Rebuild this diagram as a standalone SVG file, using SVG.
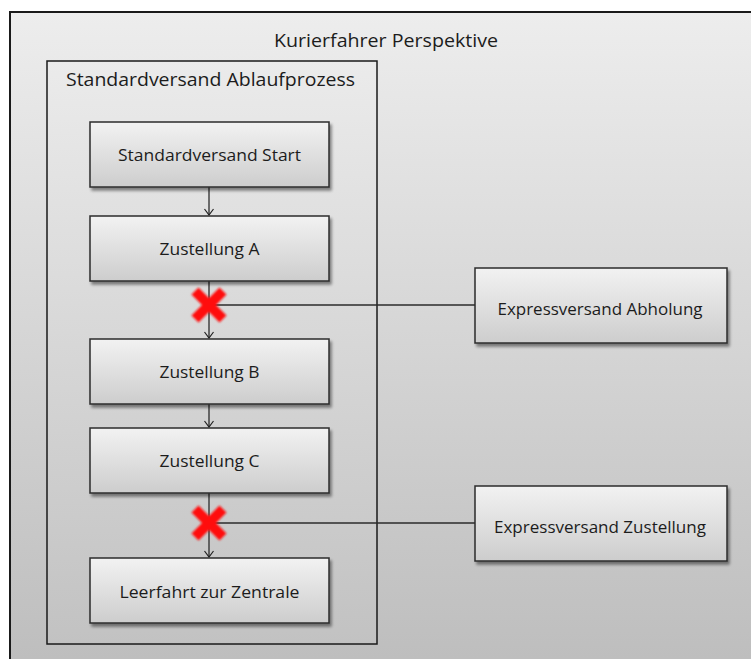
<svg xmlns="http://www.w3.org/2000/svg" width="751" height="659" viewBox="0 0 751 659">
<defs>
<linearGradient id="bgOuter" x1="0" y1="0" x2="0" y2="1">
<stop offset="0" stop-color="#ededed"/>
<stop offset="1" stop-color="#bdbdbd"/>
</linearGradient>
<linearGradient id="bgInner" x1="0" y1="0" x2="0" y2="1">
<stop offset="0" stop-color="#ebebeb"/>
<stop offset="1" stop-color="#c2c2c2"/>
</linearGradient>
<linearGradient id="boxGrad" x1="0" y1="0" x2="0" y2="1">
<stop offset="0" stop-color="#f2f2f2"/>
<stop offset="1" stop-color="#cdcdcd"/>
</linearGradient>
<filter id="shadow" x="-10%" y="-10%" width="130%" height="140%">
<feGaussianBlur in="SourceAlpha" stdDeviation="1.5"/>
<feOffset dx="2" dy="2.5" result="o"/>
<feComponentTransfer><feFuncA type="linear" slope="0.45"/></feComponentTransfer>
<feMerge><feMergeNode/><feMergeNode in="SourceGraphic"/></feMerge>
</filter>
<filter id="soft" x="-20%" y="-20%" width="140%" height="140%">
<feGaussianBlur stdDeviation="0.8"/>
</filter>
<marker id="arrow" markerWidth="8" markerHeight="10" refX="7" refY="5" orient="auto" markerUnits="userSpaceOnUse" viewBox="0 0 8 10">
<path d="M1,0.5 L7,5 L1,9.5" fill="none" stroke="#222" stroke-width="1.2"/>
</marker>
</defs>
<style>
.frame{stroke:#1a1a1a;stroke-width:2}
.box rect{fill:url(#boxGrad);stroke:#2b2b2b;stroke-width:1.5;filter:url(#shadow)}
.lbl{font-family:"Open Sans","Liberation Sans",sans-serif;font-size:16px;fill:#1c1c1c;text-anchor:middle}
.title{font-family:"Open Sans","Liberation Sans",sans-serif;font-size:18px;fill:#1c1c1c}
.conn line{stroke:#2b2b2b;stroke-width:1.3}
.x line{stroke:#ff1010;stroke-width:10}
</style>
<rect width="751" height="659" fill="#ffffff"/>
<g id="outer-frame">
<rect class="frame" x="10" y="12" width="742" height="660" fill="url(#bgOuter)"/>
<text class="title" x="386" y="47" text-anchor="middle" textLength="224" lengthAdjust="spacingAndGlyphs">Kurierfahrer Perspektive</text>
</g>
<g id="inner-frame">
<rect class="frame" x="47" y="61" width="330" height="583" fill="url(#bgInner)" style="stroke-width:1.5"/>
<text class="title" x="66" y="86" textLength="289" lengthAdjust="spacingAndGlyphs">Standardversand Ablaufprozess</text>
</g>
<g id="connectors" class="conn">
<line x1="209" y1="187" x2="209" y2="215" marker-end="url(#arrow)"/>
<line x1="209" y1="281" x2="209" y2="338" marker-end="url(#arrow)"/>
<line x1="209" y1="404" x2="209" y2="427" marker-end="url(#arrow)"/>
<line x1="209" y1="493" x2="209" y2="557" marker-end="url(#arrow)"/>
<line x1="209" y1="305" x2="475" y2="305"/>
<line x1="209" y1="523" x2="475" y2="523"/>
</g>
<g id="cross-1" class="x" filter="url(#soft)">
<line x1="195" y1="291" x2="223" y2="319"/>
<line x1="223" y1="291" x2="195" y2="319"/>
</g>
<g id="cross-2" class="x" filter="url(#soft)">
<line x1="195" y1="509" x2="223" y2="537"/>
<line x1="223" y1="509" x2="195" y2="537"/>
</g>
<g id="node-start" class="box">
<rect x="90" y="122" width="239" height="65"/>
<text class="lbl" x="209.5" y="161" textLength="183" lengthAdjust="spacingAndGlyphs">Standardversand Start</text>
</g>
<g id="node-a" class="box">
<rect x="90" y="216" width="239" height="65"/>
<text class="lbl" x="209.5" y="255" textLength="100" lengthAdjust="spacingAndGlyphs">Zustellung A</text>
</g>
<g id="node-b" class="box">
<rect x="90" y="339" width="239" height="65"/>
<text class="lbl" x="209.5" y="378" textLength="100" lengthAdjust="spacingAndGlyphs">Zustellung B</text>
</g>
<g id="node-c" class="box">
<rect x="90" y="428" width="239" height="65"/>
<text class="lbl" x="209.5" y="467" textLength="100" lengthAdjust="spacingAndGlyphs">Zustellung C</text>
</g>
<g id="node-leer" class="box">
<rect x="90" y="558" width="239" height="65"/>
<text class="lbl" x="209.5" y="598" textLength="180" lengthAdjust="spacingAndGlyphs">Leerfahrt zur Zentrale</text>
</g>
<g id="node-express-abholung" class="box">
<rect x="475" y="268" width="252" height="75"/>
<text class="lbl" x="600" y="315" textLength="205" lengthAdjust="spacingAndGlyphs">Expressversand Abholung</text>
</g>
<g id="node-express-zustellung" class="box">
<rect x="475" y="486" width="252" height="75"/>
<text class="lbl" x="600" y="533" textLength="212" lengthAdjust="spacingAndGlyphs">Expressversand Zustellung</text>
</g>
</svg>
